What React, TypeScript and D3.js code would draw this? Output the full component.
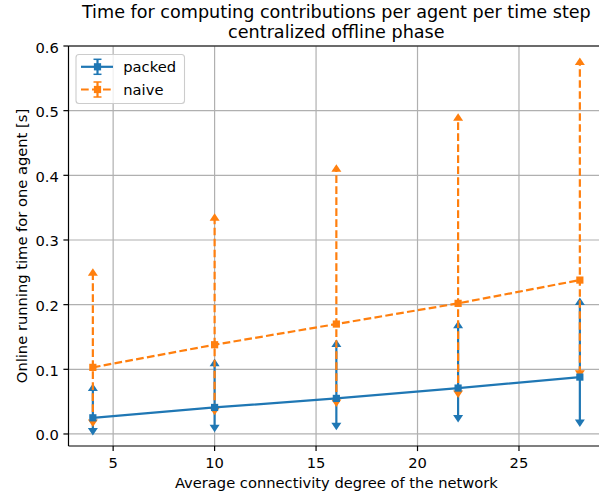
import React from "react";
import * as d3 from "d3";

// Average connectivity degree of the network
const degrees = [4, 10, 16, 22, 28];

// packed: mean running time with lower / upper extent
const packedMean = [0.025, 0.041, 0.055, 0.071, 0.088];
const packedLow = [0.004, 0.009, 0.012, 0.024, 0.017];
const packedHigh = [0.072, 0.11, 0.14, 0.169, 0.205];

// naive: mean running time with lower / upper extent
const naiveMean = [0.103, 0.138, 0.17, 0.202, 0.238];
const naiveLow = [0.017, 0.035, 0.048, 0.062, 0.093];
const naiveHigh = [0.25, 0.335, 0.411, 0.49, 0.576];

const xTicks = [5, 10, 15, 20, 25];
const yTicks = [0, 0.1, 0.2, 0.3, 0.4, 0.5, 0.6];

const W = 599;
const H = 497;
const left = 68.5;
const right = 604.2;
const top = 46;
const bottom = 446;

const BLUE = "#1f77b4";
const ORANGE = "#ff7f0e";
const FONT = "DejaVu Sans, sans-serif";
const DASH = "7.7 3.3";
const LW = 2.2;
const FS = 14.7;
const TITLE_FS = 17.6;

const x = d3.scaleLinear().domain([2.8, 29.2]).range([left, right]);
const y = d3.scaleLinear().domain([-0.0186, 0.6]).range([bottom, top]);

type Series = {
  name: string;
  color: string;
  dash?: string;
  mean: number[];
  low: number[];
  high: number[];
};

const series: Series[] = [
  { name: "packed", color: BLUE, mean: packedMean, low: packedLow, high: packedHigh },
  { name: "naive", color: ORANGE, dash: DASH, mean: naiveMean, low: naiveLow, high: naiveHigh },
];

const upTri = (cx: number, cy: number) =>
  `M${cx},${cy - 4}L${cx - 5},${cy + 3.5}L${cx + 5},${cy + 3.5}Z`;
const downTri = (cx: number, cy: number) =>
  `M${cx},${cy + 4}L${cx - 5},${cy - 3.5}L${cx + 5},${cy - 3.5}Z`;

function ErrorBars({ s }: { s: Series }) {
  return (
    <g>
      {degrees.map((d, i) => (
        <g key={i}>
          <line
            x1={x(d)}
            x2={x(d)}
            y1={y(s.low[i])}
            y2={y(s.high[i])}
            stroke={s.color}
            strokeWidth={LW}
            strokeDasharray={s.dash}
          />
          <path d={upTri(x(d), y(s.high[i]))} fill={s.color} />
          <path d={downTri(x(d), y(s.low[i]))} fill={s.color} />
        </g>
      ))}
    </g>
  );
}

function DataLine({ s }: { s: Series }) {
  const line = d3
    .line<number>()
    .x((_, i) => x(degrees[i]))
    .y((v) => y(v));
  return (
    <g>
      <path
        d={line(s.mean) || ""}
        fill="none"
        stroke={s.color}
        strokeWidth={LW}
        strokeDasharray={s.dash}
      />
      {degrees.map((d, i) => (
        <rect
          key={i}
          x={x(d) - 3.6}
          y={y(s.mean[i]) - 3.6}
          width={7.2}
          height={7.2}
          fill={s.color}
        />
      ))}
    </g>
  );
}

function LegendEntry({ s, cy }: { s: Series; cy: number }) {
  const cx = 97.5;
  return (
    <g>
      <line x1={81} x2={113} y1={cy} y2={cy} stroke={s.color} strokeWidth={LW} strokeDasharray={s.dash} />
      <line x1={cx} x2={cx} y1={cy - 7.5} y2={cy + 7.5} stroke={s.color} strokeWidth={LW} />
      <line x1={cx - 4} x2={cx + 4} y1={cy - 7.5} y2={cy - 7.5} stroke={s.color} strokeWidth={1.5} />
      <line x1={cx - 4} x2={cx + 4} y1={cy + 7.5} y2={cy + 7.5} stroke={s.color} strokeWidth={1.5} />
      <rect x={cx - 3.6} y={cy - 3.6} width={7.2} height={7.2} fill={s.color} />
      <text x={123.3} y={cy} dominantBaseline="central" fontSize={FS} fill="#000">
        {s.name}
      </text>
    </g>
  );
}

export default function App() {
  return (
    <svg
      width={W}
      height={H}
      style={{ position: "absolute", left: 0, top: 0, background: "#fff" }}
      fontFamily={FONT}
    >
      <rect x={0} y={0} width={W} height={H} fill="#fff" />
      <defs>
        <clipPath id="plot-area">
          <rect x={left} y={top} width={right - left} height={bottom - top} />
        </clipPath>
      </defs>

      {/* grid */}
      <g stroke="#b0b0b0" strokeWidth={1.2}>
        {xTicks.map((t) => (
          <line key={t} x1={x(t)} x2={x(t)} y1={top} y2={bottom} />
        ))}
        {yTicks.map((t) => (
          <line key={t} x1={left} x2={right} y1={y(t)} y2={y(t)} />
        ))}
      </g>

      <g clipPath="url(#plot-area)">
        {series.map((s) => (
          <ErrorBars key={s.name} s={s} />
        ))}
        {series.map((s) => (
          <DataLine key={s.name} s={s} />
        ))}
      </g>

      {/* spines */}
      <g stroke="#000" strokeWidth={1.2} fill="none">
        <line x1={left} x2={left} y1={top} y2={bottom} />
        <line x1={left} x2={right} y1={top} y2={top} />
        <line x1={left} x2={right} y1={bottom} y2={bottom} />
        <line x1={right} x2={right} y1={top} y2={bottom} />
      </g>

      {/* x axis ticks */}
      {xTicks.map((t) => (
        <g key={t}>
          <line x1={x(t)} x2={x(t)} y1={bottom} y2={bottom + 5.1} stroke="#000" strokeWidth={1.2} />
          <text x={x(t)} y={468.3} textAnchor="middle" fontSize={FS} fill="#000">
            {t}
          </text>
        </g>
      ))}

      {/* y axis ticks */}
      {yTicks.map((t) => (
        <g key={t}>
          <line x1={left - 5.1} x2={left} y1={y(t)} y2={y(t)} stroke="#000" strokeWidth={1.2} />
          <text
            x={58.8}
            y={y(t) + 1}
            textAnchor="end"
            dominantBaseline="central"
            fontSize={FS}
            fill="#000"
          >
            {d3.format(".1f")(t)}
          </text>
        </g>
      ))}

      {/* axis labels */}
      <text x={(left + right) / 2} y={487.5} textAnchor="middle" fontSize={FS} fill="#000">
        Average connectivity degree of the network
      </text>
      <text
        transform={`translate(26.5,${(top + bottom) / 2}) rotate(-90)`}
        textAnchor="middle"
        fontSize={FS}
        fill="#000"
      >
        Online running time for one agent [s]
      </text>

      {/* title */}
      <text x={(left + right) / 2} y={18} textAnchor="middle" fontSize={TITLE_FS} fill="#000">
        Time for computing contributions per agent per time step
      </text>
      <text x={(left + right) / 2} y={38.3} textAnchor="middle" fontSize={TITLE_FS} fill="#000">
        centralized offline phase
      </text>

      {/* legend */}
      <rect
        x={76}
        y={54.5}
        width={108.5}
        height={49}
        rx={3}
        fill="#fff"
        fillOpacity={0.8}
        stroke="#cccccc"
        strokeWidth={1.1}
      />
      <LegendEntry s={series[0]} cy={66.8} />
      <LegendEntry s={series[1]} cy={89.5} />
    </svg>
  );
}
